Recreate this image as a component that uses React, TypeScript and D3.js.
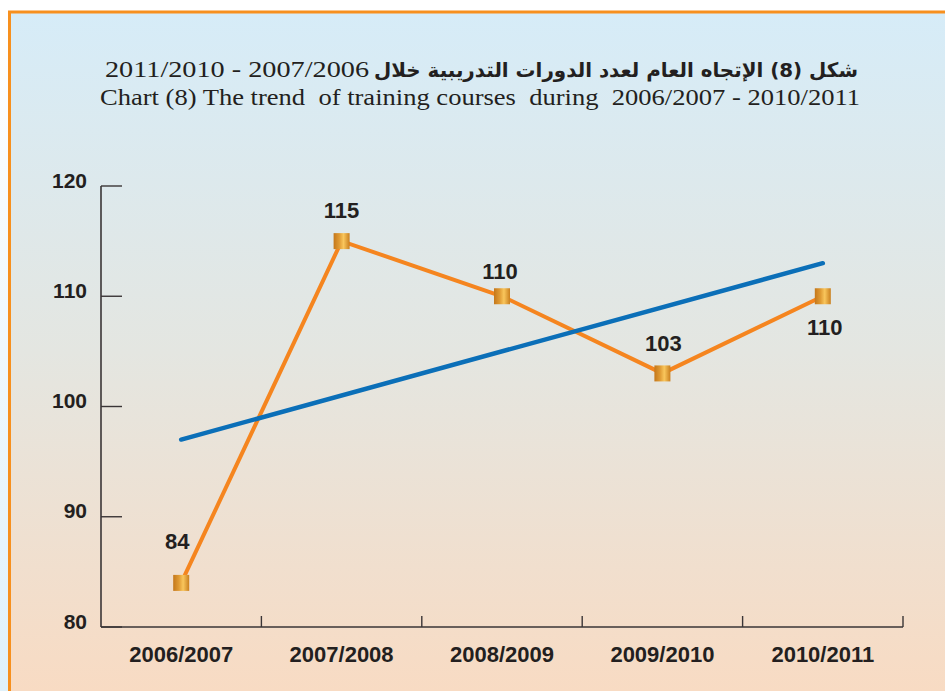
import React from "react";
import * as d3 from "d3";

const categories = ["2006/2007", "2007/2008", "2008/2009", "2009/2010", "2010/2011"];
const courses = [84, 115, 110, 103, 110];
const trendValues = [97, 113]; // trend line at first and last category
const yTicks = [80, 90, 100, 110, 120];
const titleArabic = "شكل (8) الإتجاه العام  لعدد الدورات التدريبية  خلال";
const titleArabicYears = "2011/2010 - 2007/2006";
const titleEnglish = "Chart (8) The trend  of training courses  during  2006/2007 - 2010/2011";

// label placement (styling only)
const labelDx = [-4, 0, -2, 1, 2];
const labelDy = [-34, -23, -17, -22, 39];

const W = 945;
const H = 691;

export default function App() {
  const x = d3.scaleBand<string>().domain(categories).range([101, 903]).padding(0);
  const y = d3.scaleLinear().domain([80, 120]).range([627, 186]);
  const cx = (c: string) => (x(c) as number) + x.bandwidth() / 2;

  const line = d3
    .line<number>()
    .x((_, i) => cx(categories[i]))
    .y((d) => y(d));

  const trendX = [cx(categories[0]), cx(categories[categories.length - 1])];
  const trendLine = d3
    .line<number>()
    .x((_, i) => trendX[i])
    .y((d) => y(d));

  const axisColor = "#3a3536";
  const textColor = "#231f20";
  const sans = "'Liberation Sans', Arial, Helvetica, sans-serif";
  const serif = "'Liberation Serif', 'DejaVu Serif', serif";
  const ms = 16;

  return (
    <svg
      width={W}
      height={H}
      style={{ position: "absolute", left: 0, top: 0, display: "block" }}
    >
      <defs>
        <linearGradient id="bg" x1="0" y1="0" x2="0" y2="1">
          <stop offset="0" stopColor="#d6ecf8" />
          <stop offset="0.5" stopColor="#e4e6e1" />
          <stop offset="1" stopColor="#f8dbc3" />
        </linearGradient>
        <linearGradient id="side" x1="0" y1="0" x2="0" y2="1">
          <stop offset="0" stopColor="#ffffff" />
          <stop offset="1" stopColor="#dff1fb" />
        </linearGradient>
        <linearGradient id="marker" x1="0" y1="0" x2="1" y2="0">
          <stop offset="0" stopColor="#c4771a" />
          <stop offset="0.35" stopColor="#df9a33" />
          <stop offset="0.62" stopColor="#f9c65c" />
          <stop offset="1" stopColor="#c97f1e" />
        </linearGradient>
      </defs>

      <rect x={0} y={0} width={W} height={H} fill="#ffffff" />
      <rect x={0} y={12} width={9} height={H - 12} fill="url(#side)" />
      <rect x={9} y={12} width={W - 9} height={H - 12} fill="url(#bg)" />
      {/* orange frame */}
      <path
        d={`M${9.5},${H} L${9.5},${12} L${W},${12}`}
        fill="none"
        stroke="#f7901e"
        strokeWidth={3}
      />

      {/* title */}
      <text
        x={105}
        y={77}
        fontFamily={serif}
        fontSize={24}
        fill={textColor}
        textLength={264}
        lengthAdjust="spacingAndGlyphs"
      >
        {titleArabicYears}
      </text>
      <text
        x={858}
        y={77}
        fontFamily={"'DejaVu Sans', sans-serif"}
        fontWeight="bold"
        fontSize={20}
        fill={textColor}
        textAnchor="start"
        style={{ direction: "rtl", unicodeBidi: "embed" } as React.CSSProperties}
        textLength={484}
        lengthAdjust="spacingAndGlyphs"
      >
        {titleArabic}
      </text>
      <text
        x={100}
        y={105}
        fontFamily={serif}
        fontSize={24}
        fill={textColor}
        textLength={760}
        lengthAdjust="spacingAndGlyphs"
        style={{ whiteSpace: "pre" }}
      >
        {titleEnglish}
      </text>

      {/* y axis */}
      <line x1={101} x2={101} y1={y(120)} y2={y(80)} stroke={axisColor} strokeWidth={1.6} />
      {yTicks.map((t) => (
        <g key={t}>
          <line x1={101} x2={122} y1={y(t)} y2={y(t)} stroke={axisColor} strokeWidth={1.4} />
          <text
            x={87}
            y={y(t) + 1.5}
            textAnchor="end"
            fontFamily={sans}
            fontWeight="bold"
            fontSize={21}
            fill={textColor}
          >
            {t}
          </text>
        </g>
      ))}

      {/* x axis */}
      <line x1={101} x2={903} y1={y(80)} y2={y(80)} stroke={axisColor} strokeWidth={1.6} />
      {categories.map((c) => {
        const right = (x(c) as number) + x.bandwidth();
        return (
          <g key={c}>
            <line x1={right} x2={right} y1={y(80)} y2={y(80) - 11} stroke={axisColor} strokeWidth={1.4} />
            <text
              x={cx(c)}
              y={662}
              textAnchor="middle"
              fontFamily={sans}
              fontWeight="bold"
              fontSize={22}
              fill={textColor}
            >
              {c}
            </text>
          </g>
        );
      })}

      {/* series line */}
      <path
        d={line(courses) || ""}
        fill="none"
        stroke="#f5851f"
        strokeWidth={4}
        strokeLinejoin="miter"
      />

      {/* trend line */}
      <path
        d={trendLine(trendValues) || ""}
        fill="none"
        stroke="#0b6fb8"
        strokeWidth={4.5}
        strokeLinecap="round"
      />

      {/* markers */}
      {courses.map((v, i) => (
        <rect
          key={i}
          x={cx(categories[i]) - ms / 2}
          y={y(v) - ms / 2}
          width={ms}
          height={ms}
          fill="url(#marker)"
        />
      ))}

      {/* data labels */}
      {courses.map((v, i) => (
        <text
          key={i}
          x={cx(categories[i]) + labelDx[i]}
          y={y(v) + labelDy[i]}
          textAnchor="middle"
          fontFamily={sans}
          fontWeight="bold"
          fontSize={22}
          fill={textColor}
        >
          {v}
        </text>
      ))}
    </svg>
  );
}
